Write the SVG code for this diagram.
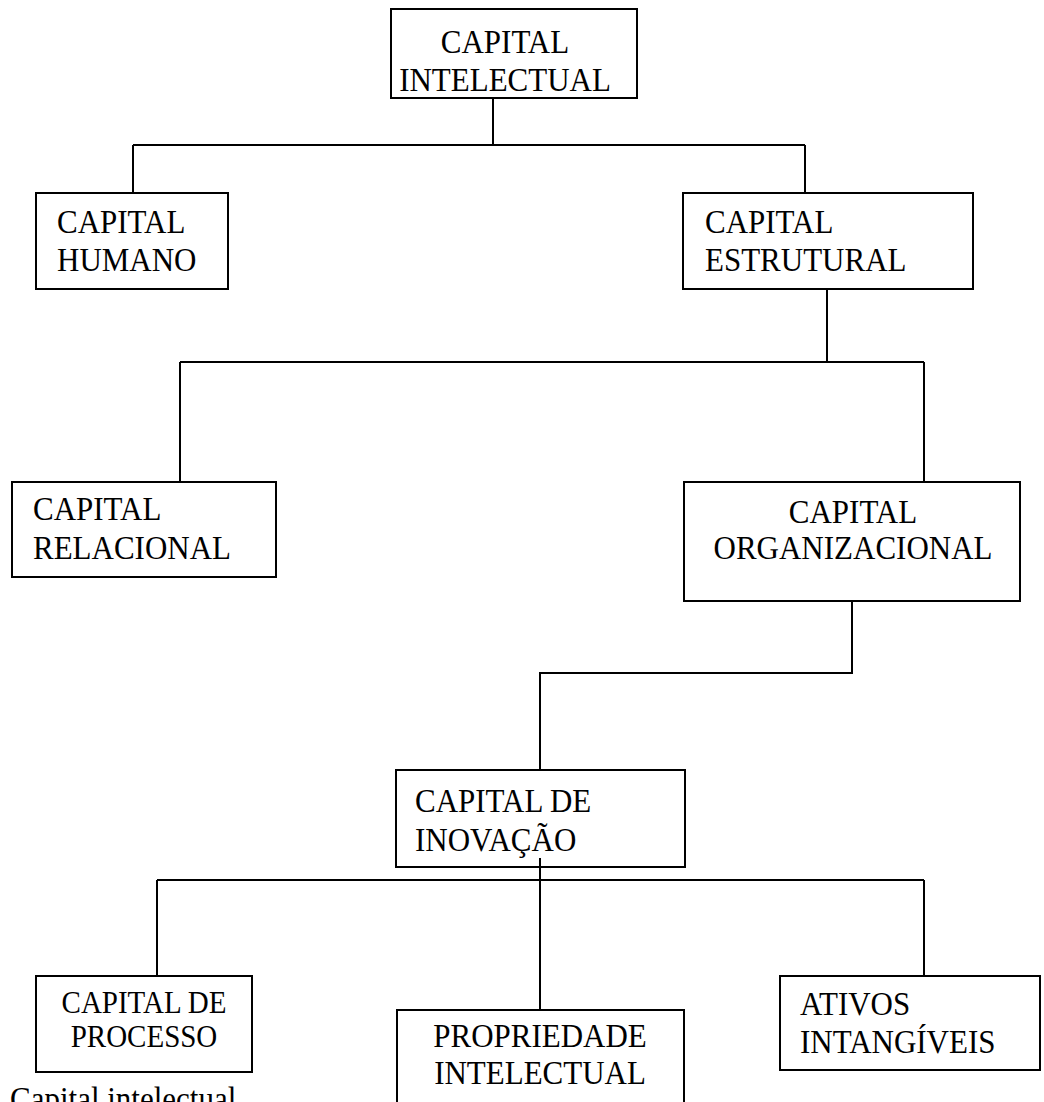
<svg xmlns="http://www.w3.org/2000/svg" width="1044" height="1102" viewBox="0 0 1044 1102">
  <style>
    .box { fill: #ffffff; stroke: #000000; stroke-width: 2; }
    .wire { fill: none; stroke: #000000; stroke-width: 2; }
    .lbl { font-family: "Liberation Serif", "Times New Roman", serif; font-size: 31px; fill: #000000; }
    .sm { font-size: 29px; }
    .mid { text-anchor: middle; }
  </style>
  <rect x="0" y="0" width="1044" height="1102" fill="#ffffff"/>

  <!-- connectors -->
  <g id="connectors">
    <path class="wire" d="M493,98 V145 M133,145 H805 M133,145 V193 M805,145 V193"/>
    <path class="wire" d="M827,289 V362 M180,362 H924 M180,362 V482 M924,362 V482"/>
    <path class="wire" d="M852,601 V673 H540 V770"/>
    <path class="wire" d="M157,880 H924 M157,880 V976 M924,880 V976"/>
  </g>

  <!-- labels use slightly tall letterforms: scale(1,1.1) about each baseline -->
  <g id="capital-intelectual">
    <rect class="box" x="391" y="9" width="246" height="89"/>
    <text class="lbl mid" transform="translate(505,53) scale(1,1.1)">CAPITAL</text>
    <text class="lbl mid" transform="translate(505,91) scale(1,1.1)">INTELECTUAL</text>
  </g>

  <g id="capital-humano">
    <rect class="box" x="36" y="193" width="192" height="96"/>
    <text class="lbl" transform="translate(57,233) scale(1,1.1)">CAPITAL</text>
    <text class="lbl" transform="translate(57,271) scale(1,1.1)">HUMANO</text>
  </g>

  <g id="capital-estrutural">
    <rect class="box" x="683" y="193" width="290" height="96"/>
    <text class="lbl" transform="translate(705,233) scale(1,1.1)">CAPITAL</text>
    <text class="lbl" transform="translate(705,271) scale(1,1.1)">ESTRUTURAL</text>
  </g>

  <g id="capital-relacional">
    <rect class="box" x="12" y="482" width="264" height="95"/>
    <text class="lbl" transform="translate(33,520) scale(1,1.1)">CAPITAL</text>
    <text class="lbl" transform="translate(33,559) scale(1,1.1)">RELACIONAL</text>
  </g>

  <g id="capital-organizacional">
    <rect class="box" x="684" y="482" width="336" height="119"/>
    <text class="lbl mid" transform="translate(853,523) scale(1,1.1)">CAPITAL</text>
    <text class="lbl mid" transform="translate(853,559) scale(1,1.1)">ORGANIZACIONAL</text>
  </g>

  <g id="capital-inovacao">
    <rect class="box" x="396" y="770" width="289" height="97"/>
    <text class="lbl" transform="translate(415,812) scale(1,1.1)">CAPITAL DE</text>
    <text class="lbl" transform="translate(415,851) scale(1,1.1)">INOVAÇÃO</text>
  </g>

  <!-- stem to propriedade starts inside the inovação box -->
  <path class="wire" d="M540,858 V1016"/>

  <g id="capital-processo">
    <rect class="box" x="36" y="976" width="216" height="96"/>
    <text class="lbl sm mid" transform="translate(144,1013) scale(1,1.1)">CAPITAL DE</text>
    <text class="lbl sm mid" transform="translate(144,1047) scale(1,1.1)">PROCESSO</text>
  </g>

  <g id="propriedade-intelectual">
    <rect class="box" x="397" y="1010" width="287" height="120"/>
    <text class="lbl mid" transform="translate(540,1047) scale(1,1.1)">PROPRIEDADE</text>
    <text class="lbl mid" transform="translate(540,1084) scale(1,1.1)">INTELECTUAL</text>
  </g>

  <g id="ativos-intangiveis">
    <rect class="box" x="780" y="976" width="260" height="94"/>
    <text class="lbl" transform="translate(800,1015) scale(1,1.1)">ATIVOS</text>
    <text class="lbl" transform="translate(800,1053) scale(1,1.1)">INTANGÍVEIS</text>
  </g>

  <!-- running text below the chart, cut by the lower edge -->
  <text class="lbl" transform="translate(10,1110) scale(1,1.1)">Capital intelectual</text>
</svg>
